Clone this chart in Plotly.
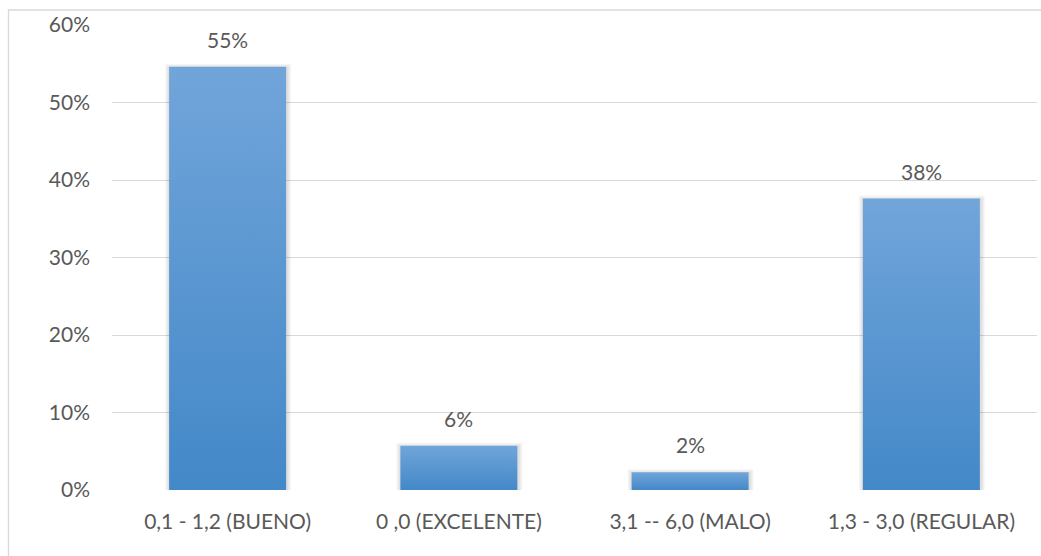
import plotly.graph_objects as go

# Distribution of scores by category
categories = ["0,1 - 1,2 (BUENO)", "0 ,0 (EXCELENTE)", "3,1 -- 6,0 (MALO)", "1,3 - 3,0 (REGULAR)"]
shares = [0.546, 0.057, 0.023, 0.376]
y_ticks = [0.0, 0.1, 0.2, 0.3, 0.4, 0.5, 0.6]
y_tick_labels = ["0%", "10%", "20%", "30%", "40%", "50%", "60%"]

W, H = 1041, 556
L, R, T, B = 112, 4, 25, 66
plot_w = W - L - R
plot_h = H - T - B
y_max = 0.6

half = 0.253           # half bar width in category units
px_x = 1.0 / (plot_w / len(categories))   # one pixel in x data units
px_y = y_max / plot_h                      # one pixel in y data units

TEXT = "#595959"
GRID = "#D9D9D9"
FONT = "Lato"
FS = 21

fig = go.Figure()

# soft shadow around each bar
for i, v in enumerate(shares):
    for k in (4, 3, 2, 1):
        x0, x1 = i - half - k * px_x, i + half + k * px_x + px_x
        y1 = v + k * px_y - px_y
        fig.add_trace(go.Scatter(
            x=[x0, x1, x1, x0, x0], y=[0, 0, y1, y1, 0],
            mode="lines", fill="toself",
            fillcolor="rgba(0,0,0,0.03)",
            line=dict(width=0, color="rgba(0,0,0,0)"),
            hoverinfo="skip", showlegend=False,
        ))

# bars with a vertical gradient fill
for i, (c, v) in enumerate(zip(categories, shares)):
    x0, x1 = i - half, i + half
    fig.add_trace(go.Scatter(
        x=[x0, x1, x1, x0, x0], y=[0, 0, v, v, 0],
        mode="lines", fill="toself",
        fillgradient=dict(type="vertical", start=0, stop=v,
                          colorscale=[[0, "#4388C8"], [1, "#71A5DA"]]),
        line=dict(width=0, color="rgba(0,0,0,0)"),
        name=c, hovertemplate=f"{c}: {v:.0%}<extra></extra>",
        showlegend=False,
    ))

# value labels above the bars
for i, v in enumerate(shares):
    fig.add_annotation(
        x=i, y=v, text=f"{v:.0%}", showarrow=False,
        yanchor="bottom", yshift=13,
        font=dict(family=FONT, size=FS, color=TEXT),
    )

# chart frame
fig.add_shape(
    type="rect", xref="paper", yref="paper",
    x0=(8.5 - L) / plot_w, x1=(W + 10 - L) / plot_w,
    y0=-(B + 10) / plot_h, y1=(H - B - 10) / plot_h,
    line=dict(color=GRID, width=1.3), fillcolor="rgba(0,0,0,0)", layer="below",
)

fig.update_layout(
    width=W, height=H,
    margin=dict(l=L, r=R, t=T, b=B),
    paper_bgcolor="white", plot_bgcolor="white",
    font=dict(family=FONT, size=FS, color=TEXT),
    xaxis=dict(
        range=[-0.5, len(categories) - 0.5],
        tickmode="array", tickvals=list(range(len(categories))), ticktext=categories,
        showgrid=False, zeroline=False, showline=False, ticks="",
        ticklabelstandoff=17,
        fixedrange=True,
    ),
    yaxis=dict(
        range=[0, y_max],
        tickmode="array", tickvals=y_ticks, ticktext=y_tick_labels,
        showgrid=True, gridcolor=GRID, gridwidth=1.3,
        zeroline=False, showline=False, ticks="",
        ticklabelstandoff=21,
        fixedrange=True,
    ),
)

fig.write_html("out.html")
